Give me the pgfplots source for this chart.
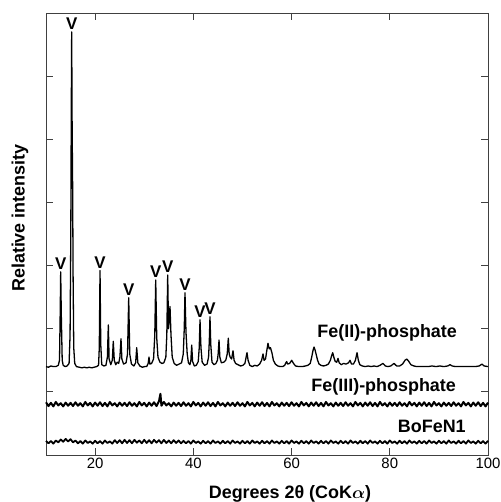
\documentclass[border=0pt]{standalone}
\usepackage{pgfplots}
\pgfplotsset{compat=1.18}
\usepackage{fontspec}
\setmainfont{Liberation Sans}

\begin{document}
\begin{tikzpicture}
\begin{axis}[
  scale only axis, width=442bp, height=442bp,
  xmin=10, xmax=100, ymin=0, ymax=7,
  xtick={20,40,60,80,100}, ytick={1,2,3,4,5,6},
  yticklabels={},
  tick align=inside, major tick length=7bp,
  axis line style={black!75, line width=0.9pt},
  every tick/.style={black!75, line width=0.8pt},
  /pgf/number format/assume math mode=true,
  xticklabel style={font=\fontsize{15}{18}\selectfont},
  xlabel={\textbf{Degrees 2θ (CoK\boldmath$\alpha$)}},
  ylabel={\textbf{Relative intensity}},
  label style={font=\fontsize{18}{21}\selectfont},
  xlabel style={at={(axis description cs:0.552,-0.0995)}, anchor=base},
  ylabel style={at={(axis description cs:-0.059,0.536)}, anchor=center},
  clip=false,
]
% Fe(II)-phosphate
\addplot[black, line width=1.3pt, line join=round] coordinates {
(10,1.40) (10.5,1.39) (11,1.41) (11.5,1.40) (12,1.40) (12.5,1.42) (12.75,1.50) (12.9,2.3) (12.99,2.90) (13.12,2.2) (13.3,1.50) (13.5,1.42) (13.9,1.40) (14.3,1.41) (14.7,1.45) (14.9,1.9) (15.05,3.5) (15.15,5.5) (15.23,6.70) (15.32,5.2) (15.42,4.3) (15.52,2.8) (15.65,1.7) (15.85,1.45) (16.2,1.40) (16.8,1.39) (17.3,1.38) (17.8,1.39) (18.3,1.38) (18.8,1.39) (19.3,1.38) (19.8,1.39) (20.3,1.40) (20.7,1.42) (20.85,1.7) (21.0,2.92) (21.15,1.75) (21.35,1.43) (21.8,1.41) (22.2,1.42) (22.5,1.55) (22.69,2.06) (22.85,1.52) (23.2,1.43) (23.5,1.50) (23.7,1.80) (23.9,1.50) (24.2,1.43) (24.5,1.47) (24.8,1.45) (25.05,1.55) (25.27,1.84) (25.45,1.52) (25.8,1.44) (26.3,1.46) (26.6,1.6) (26.84,2.49) (27.05,1.6) (27.4,1.44) (27.9,1.41) (28.25,1.46) (28.47,1.70) (28.7,1.46) (29.1,1.41) (29.6,1.39) (30.1,1.40) (30.5,1.40) (30.8,1.45) (30.97,1.55) (31.15,1.44) (31.5,1.45) (31.9,1.52) (32.15,1.9) (32.34,2.77) (32.55,1.85) (32.8,1.55) (33.2,1.47) (33.6,1.45) (34.0,1.46) (34.4,1.55) (34.6,1.9) (34.78,2.85) (34.95,2.0) (35.1,2.2) (35.25,2.35) (35.45,1.9) (35.7,1.55) (36.1,1.45) (36.6,1.42) (37.1,1.44) (37.6,1.46) (37.95,1.6) (38.15,2.0) (38.3,2.57) (38.5,1.95) (38.75,1.6) (39.0,1.46) (39.3,1.43) (39.5,1.5) (39.67,1.74) (39.85,1.48) (40.2,1.41) (40.6,1.42) (41.0,1.48) (41.2,1.7) (41.36,2.14) (41.55,1.7) (41.8,1.47) (42.3,1.42) (42.8,1.44) (43.1,1.55) (43.25,1.8) (43.39,2.19) (43.55,1.75) (43.8,1.47) (44.2,1.43) (44.6,1.45) (44.9,1.5) (45.05,1.6) (45.23,1.82) (45.4,1.55) (45.7,1.46) (46.2,1.47) (46.6,1.50) (46.9,1.6) (47.12,1.85) (47.3,1.6) (47.5,1.55) (47.8,1.52) (48.08,1.65) (48.3,1.50) (48.6,1.45) (49.1,1.43) (49.6,1.41) (50.1,1.42) (50.5,1.45) (50.75,1.55) (50.93,1.62) (51.15,1.5) (51.5,1.42) (52.0,1.40) (52.5,1.42) (53.0,1.41) (53.5,1.44) (53.9,1.5) (54.19,1.60) (54.4,1.5) (54.7,1.52) (54.95,1.65) (55.2,1.77) (55.45,1.68) (55.7,1.70) (56.0,1.62) (56.3,1.50) (56.7,1.44) (57.2,1.41) (57.7,1.40) (58.2,1.40) (58.6,1.42) (58.85,1.46) (59.0,1.48) (59.2,1.44) (59.6,1.45) (60.03,1.50) (60.4,1.45) (60.8,1.41) (61.5,1.40) (62.2,1.40) (62.8,1.41) (63.3,1.42) (63.8,1.45) (64.1,1.55) (64.35,1.65) (64.57,1.71) (64.8,1.66) (65.05,1.58) (65.3,1.50) (65.6,1.44) (66.0,1.42) (66.5,1.41) (67.0,1.42) (67.5,1.44) (67.9,1.50) (68.15,1.57) (68.38,1.62) (68.6,1.55) (68.9,1.48) (69.2,1.47) (69.46,1.53) (69.7,1.46) (70.1,1.43) (70.6,1.45) (71.1,1.44) (71.6,1.46) (71.9,1.50) (72.2,1.44) (72.6,1.44) (73.0,1.50) (73.33,1.62) (73.6,1.50) (73.9,1.43) (74.4,1.41) (75.0,1.40) (75.6,1.41) (76.2,1.40) (76.8,1.41) (77.4,1.40) (78.0,1.42) (78.6,1.45) (79.1,1.41) (79.6,1.40) (80.2,1.41) (80.86,1.45) (81.4,1.41) (82.0,1.41) (82.6,1.44) (83.1,1.50) (83.45,1.52) (83.8,1.49) (84.3,1.43) (84.9,1.41) (85.5,1.40) (86.2,1.40) (87.0,1.40) (87.8,1.40) (88.6,1.41) (89.4,1.40) (90.2,1.41) (91.0,1.40) (91.8,1.41) (92.26,1.43) (92.7,1.41) (93.4,1.40) (94.2,1.40) (95.0,1.40) (95.8,1.40) (96.6,1.40) (97.4,1.40) (98.2,1.41) (98.78,1.44) (99.2,1.41) (100,1.40)
};
% Fe(III)-phosphate
\addplot[black, line width=2pt, line join=round] coordinates {
(10,0.835) (10.5,0.775) (11,0.825) (11.5,0.77) (12,0.84) (12.5,0.785) (13,0.82) (13.5,0.77) (14,0.83) (14.5,0.78) (15,0.825) (15.5,0.775) (16,0.835) (16.5,0.78) (17,0.82) (17.5,0.77) (18,0.84) (18.5,0.785) (19,0.825) (19.5,0.77) (20,0.83) (20.5,0.78) (21,0.835) (21.5,0.775) (22,0.825) (22.5,0.77) (23,0.84) (23.5,0.785) (24,0.82) (24.5,0.77) (25,0.83) (25.5,0.78) (26,0.825) (26.5,0.775) (27,0.835) (27.5,0.78) (28,0.82) (28.5,0.77) (29,0.84) (29.5,0.785) (30,0.825) (30.5,0.77) (31,0.83) (31.5,0.78) (32,0.835) (32.5,0.775) (33,0.85) (33.3,0.97) (33.5,0.78) (34,0.84) (34.5,0.785) (35,0.82) (35.5,0.77) (36,0.83) (36.5,0.78) (37,0.825) (37.5,0.775) (38,0.835) (38.5,0.78) (39,0.82) (39.5,0.77) (40,0.84) (40.5,0.785) (41,0.825) (41.5,0.77) (42,0.83) (42.5,0.78) (43,0.835) (43.5,0.775) (44,0.825) (44.5,0.77) (45,0.84) (45.5,0.785) (46,0.82) (46.5,0.77) (47,0.83) (47.5,0.78) (48,0.825) (48.5,0.775) (49,0.835) (49.5,0.78) (50,0.82) (50.5,0.77) (51,0.84) (51.5,0.785) (52,0.825) (52.5,0.77) (53,0.83) (53.5,0.78) (54,0.835) (54.5,0.775) (55,0.825) (55.5,0.77) (56,0.84) (56.5,0.785) (57,0.82) (57.5,0.77) (58,0.83) (58.5,0.78) (59,0.825) (59.5,0.775) (60,0.835) (60.5,0.78) (61,0.82) (61.5,0.77) (62,0.84) (62.5,0.785) (63,0.825) (63.5,0.77) (64,0.83) (64.5,0.78) (65,0.835) (65.5,0.775) (66,0.825) (66.5,0.77) (67,0.84) (67.5,0.785) (68,0.82) (68.5,0.77) (69,0.83) (69.5,0.78) (70,0.825) (70.5,0.775) (71,0.835) (71.5,0.78) (72,0.82) (72.5,0.77) (73,0.84) (73.5,0.785) (74,0.825) (74.5,0.77) (75,0.83) (75.5,0.78) (76,0.835) (76.5,0.775) (77,0.825) (77.5,0.77) (78,0.84) (78.5,0.785) (79,0.82) (79.5,0.77) (80,0.83) (80.5,0.78) (81,0.825) (81.5,0.775) (82,0.835) (82.5,0.78) (83,0.82) (83.5,0.77) (84,0.84) (84.5,0.785) (85,0.825) (85.5,0.77) (86,0.83) (86.5,0.78) (87,0.835) (87.5,0.775) (88,0.825) (88.5,0.77) (89,0.84) (89.5,0.785) (90,0.82) (90.5,0.77) (91,0.83) (91.5,0.78) (92,0.825) (92.5,0.775) (93,0.835) (93.5,0.78) (94,0.82) (94.5,0.77) (95,0.84) (95.5,0.785) (96,0.825) (96.5,0.77) (97,0.83) (97.5,0.78) (98,0.835) (98.5,0.775) (99,0.825) (99.5,0.77) (100,0.83)
};
% BoFeN1
\addplot[black, line width=1.8pt, line join=round] coordinates {
(10,0.225) (10.5,0.185) (11,0.22) (11.5,0.18) (12,0.23) (12.5,0.2) (13,0.245) (13.5,0.21) (14,0.255) (14.5,0.215) (15,0.25) (15.5,0.2) (16,0.23) (16.5,0.185) (17,0.22) (17.5,0.18) (18,0.23) (18.5,0.19) (19,0.215) (19.5,0.18) (20,0.225) (20.5,0.185) (21,0.22) (21.5,0.18) (22,0.23) (22.5,0.19) (23,0.215) (23.5,0.18) (24,0.235) (24.5,0.19) (25,0.235) (25.5,0.185) (26,0.24) (26.5,0.19) (27,0.235) (27.5,0.185) (28,0.24) (28.5,0.195) (29,0.23) (29.5,0.185) (30,0.24) (30.5,0.19) (31,0.235) (31.5,0.185) (32,0.24) (32.5,0.195) (33,0.235) (33.5,0.185) (34,0.24) (34.5,0.19) (35,0.23) (35.5,0.185) (36,0.235) (36.5,0.19) (37,0.23) (37.5,0.185) (38,0.225) (38.5,0.185) (39,0.22) (39.5,0.18) (40,0.23) (40.5,0.19) (41,0.215) (41.5,0.18) (42,0.225) (42.5,0.185) (43,0.22) (43.5,0.18) (44,0.23) (44.5,0.19) (45,0.215) (45.5,0.18) (46,0.225) (46.5,0.185) (47,0.22) (47.5,0.18) (48,0.23) (48.5,0.19) (49,0.215) (49.5,0.18) (50,0.225) (50.5,0.185) (51,0.22) (51.5,0.18) (52,0.23) (52.5,0.19) (53,0.215) (53.5,0.18) (54,0.225) (54.5,0.185) (55,0.22) (55.5,0.18) (56,0.23) (56.5,0.19) (57,0.215) (57.5,0.18) (58,0.225) (58.5,0.185) (59,0.22) (59.5,0.18) (60,0.23) (60.5,0.19) (61,0.215) (61.5,0.18) (62,0.225) (62.5,0.185) (63,0.22) (63.5,0.18) (64,0.23) (64.5,0.19) (65,0.215) (65.5,0.18) (66,0.225) (66.5,0.185) (67,0.22) (67.5,0.18) (68,0.23) (68.5,0.19) (69,0.215) (69.5,0.18) (70,0.225) (70.5,0.185) (71,0.22) (71.5,0.18) (72,0.23) (72.5,0.19) (73,0.215) (73.5,0.18) (74,0.225) (74.5,0.185) (75,0.22) (75.5,0.18) (76,0.23) (76.5,0.19) (77,0.215) (77.5,0.18) (78,0.225) (78.5,0.185) (79,0.22) (79.5,0.18) (80,0.23) (80.5,0.19) (81,0.215) (81.5,0.18) (82,0.225) (82.5,0.185) (83,0.22) (83.5,0.18) (84,0.23) (84.5,0.19) (85,0.215) (85.5,0.18) (86,0.225) (86.5,0.185) (87,0.22) (87.5,0.18) (88,0.23) (88.5,0.19) (89,0.215) (89.5,0.18) (90,0.225) (90.5,0.185) (91,0.22) (91.5,0.18) (92,0.23) (92.5,0.19) (93,0.215) (93.5,0.18) (94,0.225) (94.5,0.185) (95,0.22) (95.5,0.18) (96,0.23) (96.5,0.19) (97,0.215) (97.5,0.18) (98,0.225) (98.5,0.185) (99,0.22) (99.5,0.18) (100,0.225)
};
% peak markers
\addplot[draw=none, mark=none, nodes near coords={\textbf{V}},
  every node near coord/.style={anchor=south, inner sep=0pt, yshift=2bp,
    font=\fontsize{17}{19}\selectfont}]
  coordinates {(12.99,2.90) (15.23,6.70) (21.0,2.92) (26.84,2.49) (32.34,2.77) (34.78,2.85) (38.3,2.57) (41.36,2.14) (43.39,2.19)};
\node[anchor=base east, inner sep=0pt, font=\fontsize{18}{21}\selectfont\bfseries] at (axis cs:93.7,1.853) {Fe(II)-phosphate};
\node[anchor=base east, inner sep=0pt, font=\fontsize{18}{21}\selectfont\bfseries] at (axis cs:93.5,1.0) {Fe(III)-phosphate};
\node[anchor=base east, inner sep=0pt, font=\fontsize{18}{21}\selectfont\bfseries] at (axis cs:95.5,0.364) {BoFeN1};
\end{axis}
\pgfresetboundingbox
\path ([xshift=-46bp,yshift=-47bp]current axis.south west) rectangle ([xshift=12bp,yshift=13bp]current axis.north east);
\end{tikzpicture}
\end{document}
